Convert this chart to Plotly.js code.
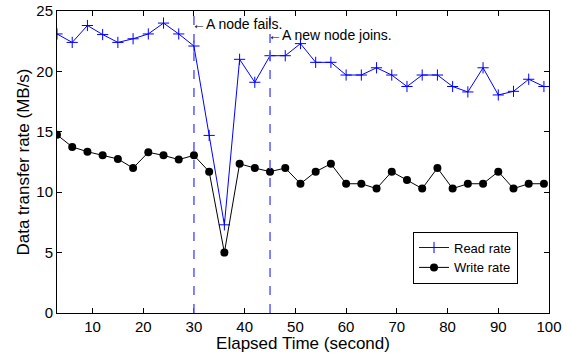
<!DOCTYPE html>
<html>
<head>
<meta charset="utf-8">
<script src="https://cdn.plot.ly/plotly-3.0.1.min.js"></script>
<style>html,body{margin:0;padding:0;background:#fff;}#chart{width:570px;height:353px;}</style>
</head>
<body>
<div id="chart"></div>
<script>
var elapsedTime = [3,6,9,12,15,18,21,24,27,30,33,36,39,42,45,48,51,54,57,60,63,66,69,72,75,78,81,84,87,90,93,96,99];
var readRate = [23.1,22.4,23.8,23.05,22.4,22.7,23.1,24.0,23.1,22.1,14.7,7.3,21.0,19.1,21.3,21.3,22.3,20.75,20.75,19.7,19.7,20.3,19.7,18.75,19.7,19.7,18.75,18.3,20.3,18.05,18.35,19.35,18.75];
var writeRate = [14.75,13.75,13.35,13.05,12.75,12.0,13.3,13.05,12.7,13.05,11.7,5.0,12.35,12.0,11.7,12.0,10.7,11.7,12.35,10.7,10.7,10.3,11.7,11.0,10.3,12.0,10.3,10.7,10.7,11.7,10.3,10.7,10.7];
var eventTimes = [30, 45];
var eventLabels = ["\u2190A node fails.", "\u2190A new node joins."];
var eventLabelY = [23.9, 23.0];
var xTicks = [10,20,30,40,50,60,70,80,90,100];
var yTicks = [0,5,10,15,20,25];

var font = "Liberation Sans, Arial, Helvetica, sans-serif";

var traces = [
  {x: elapsedTime, y: readRate, name: "Read rate", type: "scatter", mode: "lines+markers",
   line: {color: "#0000ff", width: 1}, marker: {symbol: "cross-thin", size: 8, line: {color: "#0000ff", width: 1}}},
  {x: elapsedTime, y: writeRate, name: "Write rate", type: "scatter", mode: "lines+markers",
   line: {color: "#000000", width: 1}, marker: {symbol: "circle", size: 8, color: "#000000"}}
];

var shapes = eventTimes.map(function(t){
  return {type: "line", xref: "x", yref: "paper", x0: t, x1: t, y0: 0, y1: 1,
          line: {color: "#5a5aff", width: 1.5, dash: "dash"}};
});
var annotations = eventTimes.map(function(t, i){
  return {x: t, y: eventLabelY[i], xref: "x", yref: "y", text: eventLabels[i], showarrow: false,
          xanchor: "left", yanchor: "middle", xshift: -4, font: {family: font, size: 14, color: "#000"}};
});

var axisCommon = {showgrid: false, zeroline: false, showline: true, linecolor: "#000", linewidth: 1,
  mirror: "ticks", ticks: "inside", ticklen: 5, tickcolor: "#000",
  tickfont: {family: font, size: 15, color: "#000"}};

var layout = {
  width: 570, height: 353,
  margin: {l: 57, r: 21, t: 11, b: 39.5},
  paper_bgcolor: "#fff", plot_bgcolor: "#fff",
  showlegend: true,
  legend: {x: 0.937, y: 0.0975, xanchor: "right", yanchor: "bottom", bgcolor: "#fff",
           bordercolor: "#000", borderwidth: 1, font: {family: font, size: 13, color: "#000"},
           tracegroupgap: 0, itemwidth: 30},
  xaxis: Object.assign({}, axisCommon, {range: [3, 100], tickvals: xTicks,
          title: {text: "Elapsed Time (second)", font: {family: font, size: 17, color: "#000"}, standoff: 0}}),
  yaxis: Object.assign({}, axisCommon, {range: [0, 25], tickvals: yTicks,
          title: {text: "Data transfer rate (MB/s)", font: {family: font, size: 17, color: "#000"}, standoff: 2}}),
  shapes: shapes,
  annotations: annotations
};

Plotly.newPlot("chart", traces, layout, {displayModeBar: false, staticPlot: true});
</script>
</body>
</html>
